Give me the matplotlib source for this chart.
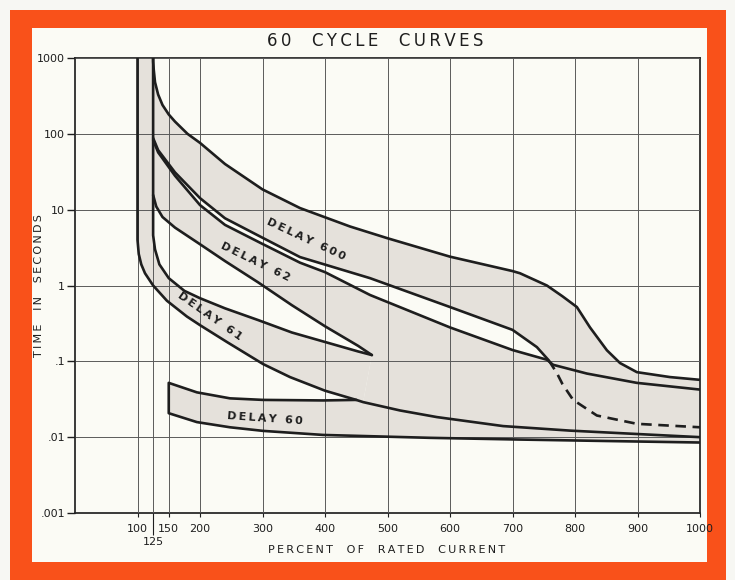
import numpy as np
import matplotlib
matplotlib.use("Agg")
import matplotlib.pyplot as plt
from matplotlib.patches import Rectangle
from matplotlib.ticker import FixedLocator, NullLocator

# Time-current curves, x = percent of rated current, y = seconds
# Delay 600, upper edge
a_x = [125, 125, 126, 128, 133, 140, 150, 160, 180, 200, 240, 300, 360, 440, 500, 600, 700, 712, 755, 780, 803, 824, 851, 872, 899, 952, 1000]
a_t = [1000, 900, 700, 480, 330, 240, 180, 145, 100, 76, 40, 18.5, 10.5, 6.0, 4.2, 2.4, 1.55, 1.45, 1.0, 0.72, 0.52, 0.28, 0.14, 0.095, 0.072, 0.062, 0.057]

# Delay 600, lower edge (solid part, then dashed part)
b1_x = [125, 133, 160, 200, 240, 298, 360, 472, 600, 700, 739, 758]
b1_t = [88, 61, 31, 14.2, 7.7, 4.35, 2.37, 1.25, 0.52, 0.26, 0.154, 0.103]
b1d_x = [758, 771, 780, 797, 835, 899, 1000]
b1d_t = [0.103, 0.07, 0.05, 0.031, 0.0193, 0.015, 0.0135]

# Delay 62, upper edge
b2_x = [125, 133, 160, 200, 240, 298, 360, 400, 472, 600, 700, 755, 765, 819, 899, 1000]
b2_t = [83, 57, 28, 11.5, 6.3, 3.6, 2.0, 1.5, 0.75, 0.28, 0.141, 0.105, 0.09, 0.069, 0.052, 0.0424]

# Delay 62, lower edge (ends at the tip)
c_x = [125, 130, 140, 160, 200, 240, 293, 347, 400, 453, 475]
c_t = [15.6, 11, 8.0, 5.8, 3.5, 2.1, 1.1, 0.55, 0.29, 0.16, 0.121]

# Delay 61, upper edge (vertical at 125 % first)
d_x = [125, 125, 128, 135, 150, 175, 200, 240, 293, 347, 400, 453, 475]
d_t = [1000, 4.6, 3.0, 1.9, 1.25, 0.85, 0.68, 0.50, 0.35, 0.24, 0.18, 0.135, 0.121]

# Delay 61, lower edge (vertical at 100 % first)
l1_x = [100, 100, 102, 106, 112, 125, 147, 179, 200, 243, 301, 344, 400, 450, 461, 520, 579, 685, 792, 900, 1000]
l1_t = [1000, 4.0, 2.6, 1.9, 1.45, 1.0, 0.63, 0.39, 0.30, 0.18, 0.092, 0.062, 0.041, 0.031, 0.029, 0.0225, 0.0184, 0.0140, 0.0122, 0.011, 0.010]

# Delay 60 band
d60u_x = [150, 195, 248, 301, 397, 450]
d60u_t = [0.052, 0.039, 0.0325, 0.031, 0.0305, 0.031]
d60l_x = [150, 195, 248, 301, 397, 568, 712, 850, 1000]
d60l_t = [0.0207, 0.0158, 0.0135, 0.0121, 0.0107, 0.0098, 0.0093, 0.0089, 0.0085]

x_ticks = [100, 150, 200, 300, 400, 500, 600, 700, 800, 900, 1000]
y_ticks = [0.001, 0.01, 0.1, 1, 10, 100, 1000]
y_labels = [".001", ".01", ".1", "1", "10", "100", "1000"]

band_labels = ["DELAY 600", "DELAY 62", "DELAY 61", "DELAY 60"]
band_label_x = [370, 288, 216, 304]
band_label_t = [4.1, 2.04, 0.39, 0.0173]
band_label_rot = [-25, -26, -35, -4]

ORANGE = "#F9511A"
PAPER = "#FBFBF5"
SHADE = "#E5E1DB"
INK = "#1E1E1E"


def spaced(s):
    # open up the lettering a little with thin spaces
    return "\u2009".join(s)


fig = plt.figure(figsize=(7.35, 5.8), dpi=100, facecolor="#F7F7F3")
W, H = 735.0, 580.0

# orange frame and paper panel, kept under the axes
fig.patches.append(Rectangle((10 / W, 0), 716 / W, 570 / H, transform=fig.transFigure,
                             facecolor=ORANGE, edgecolor="none", zorder=-2))
fig.patches.append(Rectangle((32 / W, 18 / H), 675 / W, 534 / H, transform=fig.transFigure,
                             facecolor=PAPER, edgecolor="none", zorder=-1))

ax = fig.add_axes([75 / W, 67 / H, 625 / W, 455 / H])
ax.set_facecolor("none")
ax.set_yscale("log")
ax.set_xlim(0, 1000)
ax.set_ylim(0.001, 1000)

# shaded bands
p600_x = a_x + (b1_x + b1d_x[1:])[::-1]
p600_t = a_t + (b1_t + b1d_t[1:])[::-1]
ax.fill(p600_x, p600_t, color=SHADE, lw=0, zorder=1)

tail_x = [x for x in l1_x if x >= 461]
tail_t = [t for x, t in zip(l1_x, l1_t) if x >= 461]
p62_x = b2_x + tail_x[::-1] + c_x[::-1]
p62_t = b2_t + tail_t[::-1] + c_t[::-1]
ax.fill(p62_x, p62_t, color=SHADE, lw=0, zorder=1)

head_x = [x for x in l1_x if x <= 461]
head_t = [t for x, t in zip(l1_x, l1_t) if x <= 461]
p61_x = head_x + d_x[::-1]
p61_t = head_t + d_t[::-1]
ax.fill(p61_x, p61_t, color=SHADE, lw=0, zorder=1)

after_x = [x for x in l1_x if x > 450]
after_t = [t for x, t in zip(l1_x, l1_t) if x > 450]
p60_x = d60u_x + after_x + d60l_x[::-1]
p60_t = d60u_t + after_t + d60l_t[::-1]
ax.fill(p60_x, p60_t, color=SHADE, lw=0, zorder=1)

# curve outlines
kw = dict(color=INK, lw=1.9, zorder=3, solid_joinstyle="round", solid_capstyle="round")
ax.plot(a_x, a_t, **kw)
ax.plot(b1_x, b1_t, **kw)
ax.plot(b1d_x, b1d_t, color=INK, lw=1.9, zorder=3, linestyle=(0, (4, 2.5)))
ax.plot(b2_x, b2_t, **kw)
ax.plot(c_x, c_t, **kw)
ax.plot(d_x, d_t, **kw)
ax.plot(l1_x, l1_t, **kw)
ax.plot(d60u_x[::-1] + d60l_x, d60u_t[::-1] + d60l_t, **kw)

for txt, x, t, r in zip(band_labels, band_label_x, band_label_t, band_label_rot):
    ax.text(x, t, spaced(txt), rotation=r, rotation_mode="anchor", ha="center", va="center",
            fontsize=8, fontweight="bold", color=INK, zorder=4)

# axes, ticks and grid
ax.xaxis.set_major_locator(FixedLocator(x_ticks))
ax.xaxis.set_minor_locator(FixedLocator([125]))
ax.set_xticklabels([str(v) for v in x_ticks])
ax.set_xticklabels(["125"], minor=True)
ax.tick_params(axis="x", which="major", direction="out", length=3, width=0.8, pad=5,
               labelsize=8, colors=INK)
ax.tick_params(axis="x", which="minor", direction="out", length=16, width=0.8, pad=1,
               labelsize=8, colors=INK)

ax.yaxis.set_major_locator(FixedLocator(y_ticks))
ax.yaxis.set_minor_locator(NullLocator())
ax.set_yticklabels(y_labels)
ax.tick_params(axis="y", direction="out", length=6, width=1.0, pad=1, labelsize=8, colors=INK)

ax.set_axisbelow(False)
ax.grid(True, axis="x", which="both", color="#5A5A5A", lw=0.7)
ax.grid(True, axis="y", which="major", color="#5A5A5A", lw=0.7)
for s in ax.spines.values():
    s.set_color("#2A2A2A")
    s.set_linewidth(1.3)

fig.text(375 / W, 1 - 41 / H, spaced("60  CYCLE  CURVES"), ha="center", va="center",
         fontsize=12, color=INK)
fig.text(387 / W, 1 - 550 / H, spaced("PERCENT  OF  RATED  CURRENT"), ha="center", va="center",
         fontsize=8, color=INK)
fig.text(39 / W, 1 - 286 / H, spaced("TIME  IN  SECONDS"), ha="center", va="center",
         rotation=90, fontsize=8, color=INK)

fig.savefig("out.png", dpi=100, facecolor=fig.get_facecolor())
